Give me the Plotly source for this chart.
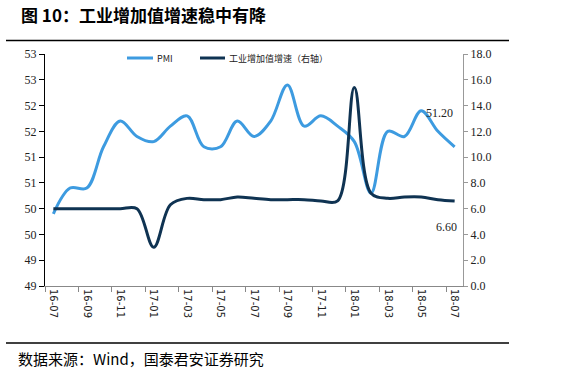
import plotly.graph_objects as go

months = ["16-07", "16-08", "16-09", "16-10", "16-11", "16-12",
          "17-01", "17-02", "17-03", "17-04", "17-05", "17-06",
          "17-07", "17-08", "17-09", "17-10", "17-11", "17-12",
          "18-01", "18-02", "18-03", "18-04", "18-05", "18-06", "18-07"]
pmi = [49.9, 50.4, 50.4, 51.2, 51.7, 51.4,
       51.3, 51.6, 51.8, 51.2, 51.2, 51.7,
       51.4, 51.7, 52.4, 51.6, 51.8, 51.6,
       51.3, 50.3, 51.5, 51.4, 51.9, 51.5, 51.2]
iva = [6.0, 6.0, 6.0, 6.0, 6.0, 6.0,
       3.0, 6.3, 6.8, 6.7, 6.7, 6.9,
       6.8, 6.7, 6.7, 6.7, 6.6, 6.6,
       15.4, 7.2, 6.8, 6.9, 6.9, 6.7, 6.6]
left_tickvals = [48.5, 49.0, 49.5, 50.0, 50.5, 51.0, 51.5, 52.0, 52.5, 53.0]
left_ticktext = ["49", "49", "50", "50", "51", "51", "52", "52", "53", "53"]
right_tickvals = [0, 2, 4, 6, 8, 10, 12, 14, 16, 18]
right_ticktext = ["0.0", "2.0", "4.0", "6.0", "8.0", "10.0", "12.0", "14.0", "16.0", "18.0"]
series_names = ["PMI", "工业增加值增速（右轴）"]

title = "图 10：工业增加值增速稳中有降"
source = "数据来源：Wind，国泰君安证券研究"

C_PMI = "#3D9BE0"
C_IVA = "#0F3352"

L, R, T, B = 45, 98, 54, 88
W, H = 561, 374
PW, PH = W - L - R, H - T - B

def px(x):
    return (x - L) / PW

def py(y):
    return (H - B - y) / PH

fig = go.Figure()
fig.add_trace(go.Scatter(x=months, y=pmi, name=series_names[0], mode="lines",
                         line=dict(color=C_PMI, width=3, shape="spline", smoothing=1)))
fig.add_trace(go.Scatter(x=months, y=iva, name=series_names[1], mode="lines", yaxis="y2",
                         line=dict(color=C_IVA, width=3, shape="spline", smoothing=1)))

serif = "Liberation Serif, Times New Roman, serif"
fig.update_layout(
    width=W, height=H,
    margin=dict(l=L, r=R, t=T, b=B, autoexpand=False),
    paper_bgcolor="white", plot_bgcolor="white",
    showlegend=False,
    hovermode=False,
    xaxis=dict(type="category", range=[-0.5, 24.5], dtick=2, tickson="boundaries",
               showline=True, linecolor="#888", linewidth=1,
               ticks="outside", ticklen=5, tickcolor="#888",
               tickangle=90, tickfont=dict(family="DejaVu Sans", size=10, color="#222"),
               showgrid=False, zeroline=False),
    yaxis=dict(range=[48.5, 53.0], tickvals=left_tickvals, ticktext=left_ticktext,
               showline=True, linecolor="#000", linewidth=1,
               ticks="outside", ticklen=5, tickcolor="#000",
               tickfont=dict(family=serif, size=12, color="#222"),
               showgrid=False, zeroline=False),
    yaxis2=dict(range=[0, 18], tickvals=right_tickvals, ticktext=right_ticktext,
                overlaying="y", side="right",
                showline=True, linecolor="#999", linewidth=1,
                ticks="outside", ticklen=4, tickcolor="#999",
                tickfont=dict(family=serif, size=12, color="#222"),
                showgrid=False, zeroline=False),
)

# legend (drawn manually)
leg_y = py(58)
for (x0, x1, tx), name, col in zip([(127, 153, 155), (200, 225, 227)], series_names, [C_PMI, C_IVA]):
    fig.add_shape(type="line", xref="paper", yref="paper", x0=px(x0), x1=px(x1), y0=leg_y, y1=leg_y,
                  line=dict(color=col, width=3))
    fig.add_annotation(x=px(tx), y=leg_y, xref="paper", yref="paper", text=name,
                       showarrow=False, xanchor="left", yanchor="middle",
                       font=dict(family="Noto Sans CJK SC", size=9, color="#222"))

fig.add_annotation(x=px(19), y=py(15), xref="paper", yref="paper", text="<b>" + title + "</b>",
                   showarrow=False, xanchor="left", yanchor="middle",
                   font=dict(family="Noto Sans CJK SC", size=17, color="#000"))
fig.add_annotation(x=px(16), y=py(358), xref="paper", yref="paper", text=source,
                   showarrow=False, xanchor="left", yanchor="middle",
                   font=dict(family="Noto Sans CJK SC", size=15, color="#000"))
fig.add_shape(type="line", xref="paper", yref="paper", x0=px(6), x1=px(509), y0=py(40.5), y1=py(40.5),
              line=dict(color="#000", width=1.5))
fig.add_shape(type="line", xref="paper", yref="paper", x0=px(6), x1=px(509), y0=py(343), y1=py(343),
              line=dict(color="#000", width=1.5))

fig.add_annotation(x=months[-1], y=pmi[-1], xref="x", yref="y", text=f"{pmi[-1]:.2f}",
                   showarrow=False, xanchor="right", yanchor="middle", xshift=0, yshift=34,
                   font=dict(family=serif, size=12, color="#222"))
fig.add_annotation(x=months[-1], y=iva[-1], xref="x", yref="y2", text=f"{iva[-1]:.2f}",
                   showarrow=False, xanchor="right", yanchor="middle", xshift=4, yshift=-26,
                   font=dict(family=serif, size=12, color="#222"))

fig.write_html("out.html", config={"displayModeBar": False},
               post_script="document.body.style.margin='0';document.body.style.overflow='hidden';")
